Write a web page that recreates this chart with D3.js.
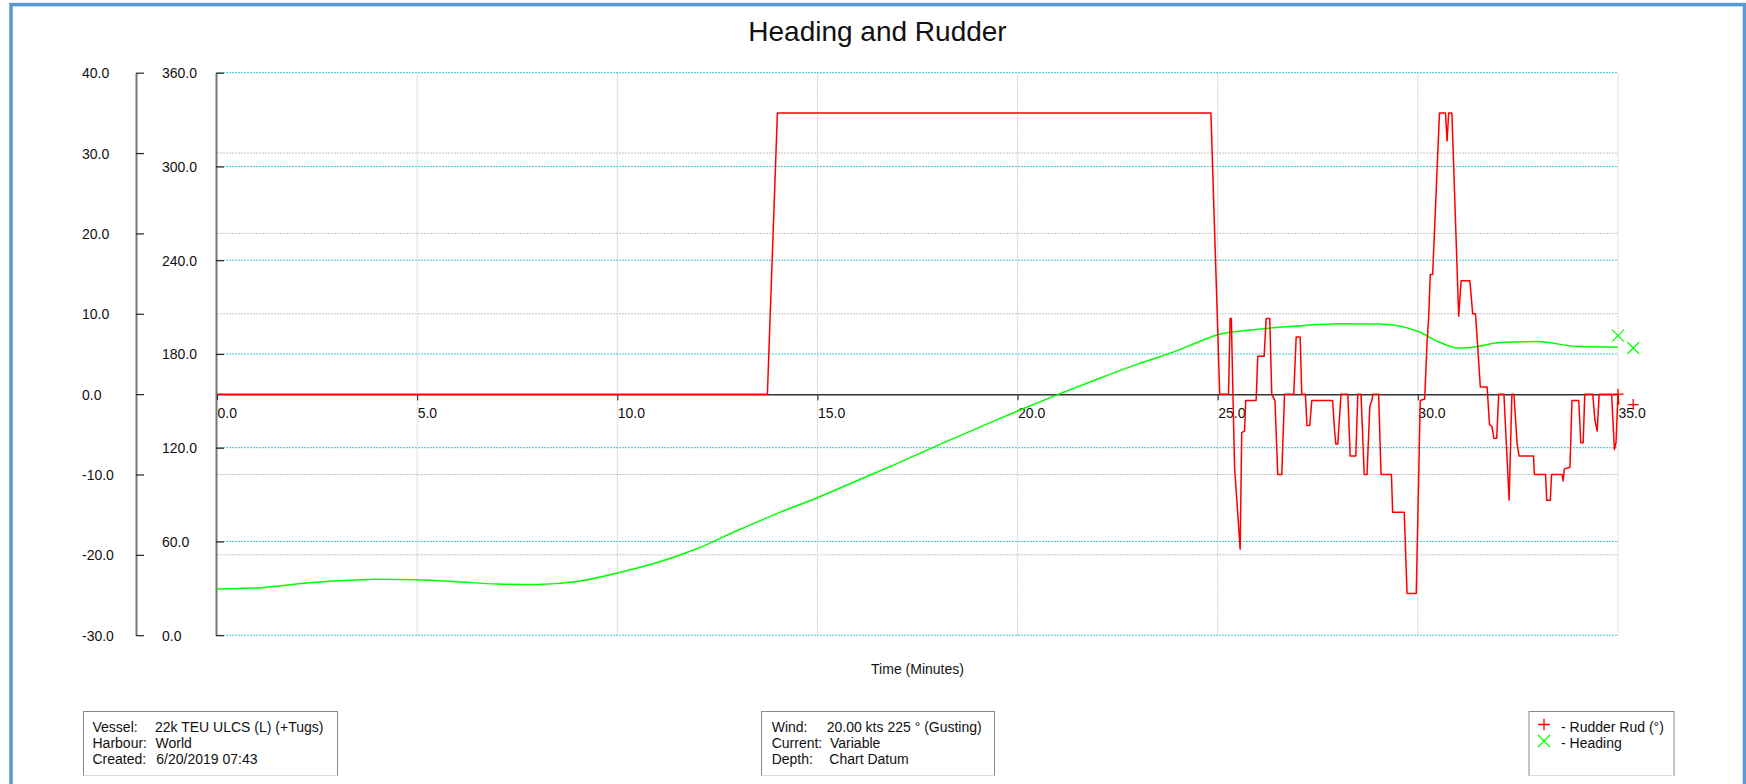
<!DOCTYPE html>
<html>
<head>
<meta charset="utf-8">
<script src="https://cdn.jsdelivr.net/npm/d3@7"></script>
<style>
  html, body { margin: 0; padding: 0; background: #ffffff; }
  svg { display: block; font-family: "Liberation Sans", Arial, sans-serif; }
</style>
</head>
<body>
<svg id="chart" width="1746" height="784"></svg>
<script>
// ---------------- data ----------------
const chartTitle = "Heading and Rudder";
const xAxisTitle = "Time (Minutes)";
const timeTicks = [0, 5, 10, 15, 20, 25, 30, 35];
const rudderTicks = [-30, -20, -10, 0, 10, 20, 30, 40];
const headingTicks = [0, 60, 120, 180, 240, 300, 360];

const rudderTime = [0, 13.75, 14.0, 24.83, 25.05, 25.27, 25.31, 25.34, 25.42, 25.56, 25.6, 25.67, 25.7, 25.96, 26.0, 26.16, 26.21, 26.3, 26.35, 26.43, 26.5, 26.6, 26.67, 26.9, 26.96, 27.06, 27.1, 27.19, 27.23, 27.3, 27.35, 27.87, 27.91, 27.95, 28.0, 28.08, 28.25, 28.31, 28.45, 28.5, 28.58, 28.66, 28.73, 28.8, 28.85, 28.88, 29.02, 29.08, 29.34, 29.37, 29.66, 29.73, 29.96, 30.06, 30.17, 30.23, 30.27, 30.31, 30.37, 30.54, 30.69, 30.73, 30.77, 30.85, 31.02, 31.08, 31.3, 31.37, 31.44, 31.5, 31.56, 31.73, 31.79, 31.85, 31.9, 31.97, 32.02, 32.15, 32.28, 32.35, 32.4, 32.48, 32.53, 32.89, 32.91, 33.19, 33.22, 33.31, 33.34, 33.6, 33.63, 33.66, 33.8, 33.85, 34.02, 34.07, 34.13, 34.17, 34.37, 34.42, 34.48, 34.53, 34.84, 34.91, 34.95, 35.0, 35.02];
const rudderAngle = [0, 0, 35, 35, 0, 0, 9.4, 9.4, -9, -19.3, -4.8, -4.6, -0.8, -0.8, 4.7, 4.7, 9.4, 9.4, 0, -0.8, -10, -10, 0, 0, 7.1, 7.1, 0, 0, -3.9, -3.9, -0.8, -0.8, -3.9, -6.2, -6.2, 0, 0, -7.7, -7.7, 0, 0, -10, -10, -1.5, -0.8, 0, 0, -10, -10, -14.7, -14.7, -24.8, -24.8, -0.8, -0.6, 6.4, 9.5, 14.9, 14.9, 35, 35, 31.5, 35, 35, 9.7, 14.1, 14.1, 10, 10, 5.6, 0.9, 0.9, -3.8, -4, -5.5, -5.5, 0, 0, -13.2, 0, 0, -6.2, -7.7, -7.7, -10, -10, -13.2, -13.2, -10, -10, -10.8, -9.3, -9.1, -0.8, -0.8, -6.05, -6.05, 0, 0, -3.1, -4.6, 0, 0, -6.9, -6.05, 0, -1.3];

const headingTime = [0, 1, 2, 3, 4, 5, 6, 7, 8, 9, 10, 11, 12, 13, 14, 15, 16, 17, 18, 19, 20, 21, 22, 23, 24, 24.5, 25, 26, 27, 28, 29, 29.5, 30, 30.5, 31, 31.5, 32, 33, 34, 35];
const headingValue = [29.5, 30.2, 32.8, 34.8, 35.8, 35.5, 34.2, 32.8, 32.5, 34.3, 39.8, 46.5, 55.5, 67, 78, 88, 99, 110, 121.5, 132.5, 143.5, 154, 164, 173.5, 182.3, 187.5, 192.3, 195.8, 197.9, 199.3, 199.2, 198, 194.5, 188, 183.8, 184.8, 187.2, 187.9, 184.7, 184.3];

// end-of-series markers
const rudderMarkerTime = [35.0, 35.38];
const rudderMarkerValue = [0, -1.3];
const headingMarkerTime = [35.0, 35.38];
const headingMarkerValue = [191.7, 183.8];

const infoLeftLabels = ["Vessel:", "Harbour:", "Created:"];
const infoLeftValues = ["22k TEU ULCS (L) (+Tugs)", "World", "6/20/2019 07:43"];
const infoMidLabels = ["Wind:", "Current:", "Depth:"];
const infoMidValues = ["20.00 kts 225 ° (Gusting)", "Variable", "Chart Datum"];
const legendLabels = ["- Rudder Rud (°)", "- Heading"];

// ---------------- drawing ----------------
const svg = d3.select("#chart");
const RED = "#ff0000", GREEN = "#00ff00";
const fmt = d => d.toFixed(1);

const x = d3.scaleLinear().domain([0, 35]).range([217, 1618]);
const yR = d3.scaleLinear().domain([-30, 40]).range([635.2, 72.7]);
const yH = d3.scaleLinear().domain([0, 360]).range([635.2, 72.7]);

svg.append("rect").attr("width", 1746).attr("height", 784).attr("fill", "#fff");

// outer frame
svg.append("rect").attr("x", 11).attr("y", 4.6).attr("width", 1733.5).attr("height", 820)
  .attr("fill", "none").attr("stroke", "#5b9bd5").attr("stroke-width", 3.6);

// title
svg.append("text").attr("x", 877.5).attr("y", 41).attr("text-anchor", "middle")
  .attr("font-size", 28).attr("fill", "#111").text(chartTitle);

// grid
const grid = svg.append("g");
rudderTicks.filter(v => v !== 0 && v !== 40 && v !== -30).forEach(v => {
  grid.append("line").attr("x1", 217).attr("x2", 1618).attr("y1", yR(v)).attr("y2", yR(v))
    .attr("stroke", "#c4c4c4").attr("stroke-width", 1).attr("stroke-dasharray", "2,1");
});
timeTicks.filter(t => t !== 0).forEach(t => {
  grid.append("line").attr("x1", x(t)).attr("x2", x(t)).attr("y1", 72.7).attr("y2", 636)
    .attr("stroke", "#cfcfcf").attr("stroke-width", 1).attr("stroke-dasharray", "2,1");
});
headingTicks.forEach(v => {
  grid.append("line").attr("x1", 217).attr("x2", 1618).attr("y1", yH(v)).attr("y2", yH(v))
    .attr("stroke", "#3cc8c8").attr("stroke-width", 1).attr("stroke-dasharray", "2,1");
});

// rudder axis (left)
const axR = svg.append("g").attr("transform", "translate(136,0)")
  .call(d3.axisRight(yR).tickValues(rudderTicks).tickFormat(fmt).tickSize(8).tickSizeOuter(0));
axR.select(".domain").attr("stroke", "#777").attr("stroke-width", 2);
axR.selectAll(".tick line").attr("stroke", "#222").attr("stroke-width", 1.2);
axR.selectAll(".tick text").attr("x", -54).attr("dy", "0.36em").attr("text-anchor", "start")
  .attr("font-size", 14).attr("fill", "#111").attr("font-family", "Liberation Sans, Arial, sans-serif");

// heading axis
const axH = svg.append("g").attr("transform", "translate(216,0)")
  .call(d3.axisRight(yH).tickValues(headingTicks).tickFormat(fmt).tickSize(8).tickSizeOuter(0));
axH.select(".domain").attr("stroke", "#777").attr("stroke-width", 2);
axH.selectAll(".tick line").attr("stroke", "#222").attr("stroke-width", 1.2);
axH.selectAll(".tick text").attr("x", -54).attr("dy", "0.36em").attr("text-anchor", "start")
  .attr("font-size", 14).attr("fill", "#111").attr("font-family", "Liberation Sans, Arial, sans-serif");

// time axis at rudder zero
const axX = svg.append("g").attr("transform", `translate(0,${yR(0)})`)
  .call(d3.axisBottom(x).tickValues(timeTicks).tickFormat(fmt).tickSize(6).tickSizeOuter(0));
axX.select(".domain").attr("stroke", "#333").attr("stroke-width", 1.5);
axX.selectAll(".tick line").attr("stroke", "#333").attr("stroke-width", 1.2);
axX.selectAll(".tick text").attr("x", 0).attr("y", 23.5).attr("dy", 0).attr("text-anchor", "start")
  .attr("font-size", 14).attr("fill", "#111").attr("font-family", "Liberation Sans, Arial, sans-serif");

svg.append("text").attr("x", (x(0) + x(35)) / 2).attr("y", 674).attr("text-anchor", "middle")
  .attr("font-size", 14).attr("fill", "#111").text(xAxisTitle);

// series
const headingData = headingTime.map((t, i) => [t, headingValue[i]]);
const rudderData = rudderTime.map((t, i) => [t, rudderAngle[i]]);

svg.append("path").datum(headingData)
  .attr("d", d3.line().x(d => x(d[0])).y(d => yH(d[1])).curve(d3.curveMonotoneX))
  .attr("fill", "none").attr("stroke", GREEN).attr("stroke-width", 1.5);

svg.append("path").datum(rudderData)
  .attr("d", d3.line().x(d => x(d[0])).y(d => yR(d[1])))
  .attr("fill", "none").attr("stroke", RED).attr("stroke-width", 1.5).attr("stroke-linejoin", "round");

// markers
function plus(g, cx, cy, s, color) {
  g.append("path").attr("d", `M${cx - s},${cy}H${cx + s}M${cx},${cy - s}V${cy + s}`)
    .attr("stroke", color).attr("stroke-width", 1.3).attr("fill", "none");
}
function cross(g, cx, cy, s, color) {
  g.append("path").attr("d", `M${cx - s},${cy - s}L${cx + s},${cy + s}M${cx - s},${cy + s}L${cx + s},${cy - s}`)
    .attr("stroke", color).attr("stroke-width", 1.2).attr("fill", "none");
}
const mk = svg.append("g");
rudderMarkerTime.forEach((t, i) => plus(mk, x(t), yR(rudderMarkerValue[i]), 5.5, RED));
headingMarkerTime.forEach((t, i) => cross(mk, x(t), yH(headingMarkerValue[i]), 6, GREEN));

// info boxes
function box(bx, by, bw, bh) {
  const g = svg.append("g");
  g.append("rect").attr("x", bx + 0.5).attr("y", by + 0.5).attr("width", bw).attr("height", bh)
    .attr("fill", "#fff").attr("stroke", "#8a8a8a").attr("stroke-width", 1);
  g.append("line").attr("x1", bx + 0.5).attr("x2", bx + bw + 0.5).attr("y1", by + bh + 0.5).attr("y2", by + bh + 0.5)
    .attr("stroke", "#dcdcdc").attr("stroke-width", 1);
  return g;
}
const rowY = [732, 748.2, 764.4];

const b1 = box(83, 711, 254, 64);
infoLeftLabels.forEach((s, i) => b1.append("text").attr("x", 92.5).attr("y", rowY[i]).attr("font-size", 14).attr("fill", "#111").text(s));
const v1x = [155, 155.6, 156.3];
infoLeftValues.forEach((s, i) => b1.append("text").attr("x", v1x[i]).attr("y", rowY[i]).attr("font-size", 14).attr("fill", "#111").text(s));

const b2 = box(761, 711, 233, 64);
infoMidLabels.forEach((s, i) => b2.append("text").attr("x", 771.7).attr("y", rowY[i]).attr("font-size", 14).attr("fill", "#111").text(s));
const v2x = [826.7, 830, 829.3];
infoMidValues.forEach((s, i) => b2.append("text").attr("x", v2x[i]).attr("y", rowY[i]).attr("font-size", 14).attr("fill", "#111").text(s));

const b3 = box(1528.5, 711, 145, 64);
plus(b3, 1544, 724.5, 5.8, RED);
cross(b3, 1544, 741, 6, GREEN);
legendLabels.forEach((s, i) => b3.append("text").attr("x", 1561).attr("y", rowY[i]).attr("font-size", 14).attr("fill", "#111").text(s));
</script>
</body>
</html>
